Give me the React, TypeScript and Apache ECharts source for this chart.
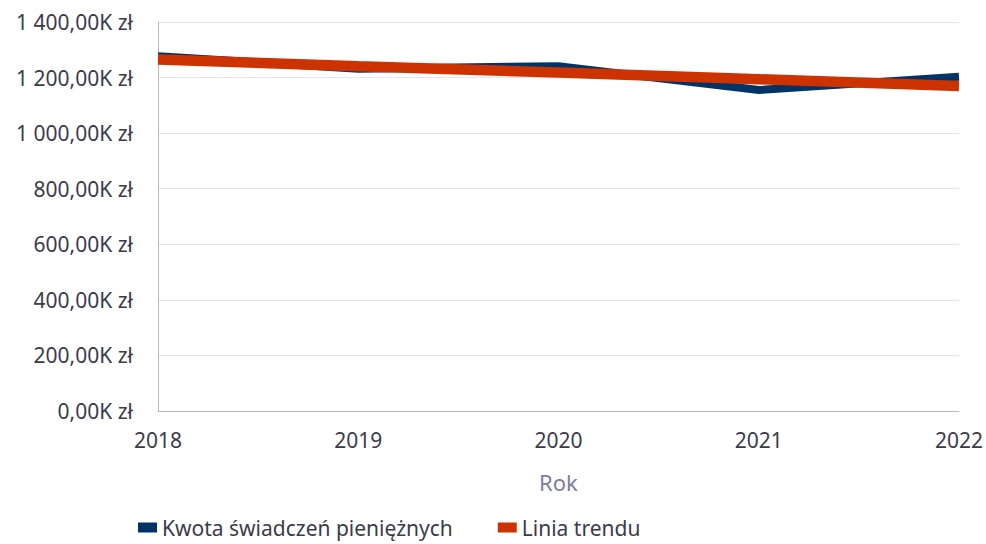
import React, { useEffect, useRef } from "react";
import * as echarts from "echarts";

const years = ["2018", "2019", "2020", "2021", "2022"];
const kwota = [1277, 1232, 1241, 1155, 1203];
const trend = [1265, 1241, 1218, 1194, 1170];
const seriesNames = ["Kwota świadczeń pieniężnych", "Linia trendu"];

const FONT = "'Noto Sans', sans-serif";

function fmt(v: number): string {
  const s = v.toFixed(2).replace(".", ",");
  const [int, dec] = s.split(",");
  const grouped = int.replace(/\B(?=(\d{3})+(?!\d))/g, " ");
  return `${grouped},${dec}K zł`;
}

export default function App() {
  const ref = useRef<HTMLDivElement>(null);
  useEffect(() => {
    if (!ref.current) return;
    const chart = echarts.init(ref.current, undefined, { renderer: "svg" });
    chart.setOption({
      animation: false,
      textStyle: { fontFamily: FONT },
      grid: { left: 158, right: 23, top: 22, bottom: 133, containLabel: false },
      legend: {
        left: 133,
        top: 512,
        itemWidth: 19,
        itemHeight: 10,
        itemGap: 45,
        icon: "rect",
        textStyle: { fontSize: 21, color: "#3b3b4b", fontFamily: FONT },
        data: seriesNames,
      },
      xAxis: {
        type: "category",
        data: years,
        boundaryGap: false,
        name: "Rok",
        nameLocation: "middle",
        nameGap: 60,
        nameTextStyle: { fontSize: 22, color: "#7d7ea0", fontFamily: FONT },
        axisLine: { lineStyle: { color: "#b8b8c8" } },
        axisTick: { show: false },
        axisLabel: { fontSize: 21, color: "#3b3b4b", margin: 18 },
      },
      yAxis: {
        type: "value",
        min: 0,
        max: 1400,
        interval: 200,
        axisLine: { show: true, lineStyle: { color: "#b8b8c8" } },
        axisTick: { show: false },
        splitLine: { lineStyle: { color: "#e4e4ee" } },
        axisLabel: { fontSize: 21, color: "#3b3b4b", margin: 25, formatter: (v: number) => fmt(v) },
      },
      series: [
        {
          name: seriesNames[0],
          type: "line",
          data: kwota,
          symbol: "none",
          itemStyle: { color: "#003466" },
          lineStyle: { color: "#003466", width: 8, cap: "butt", join: "miter" },
        },
        {
          name: seriesNames[1],
          type: "line",
          data: trend,
          symbol: "none",
          itemStyle: { color: "#cc3300" },
          lineStyle: { color: "#cc3300", width: 10.5, cap: "butt" },
        },
      ],
    });
    return () => chart.dispose();
  }, []);
  return <div ref={ref} style={{ width: 986, height: 544, position: "absolute", left: 0, top: 0 }} />;
}
